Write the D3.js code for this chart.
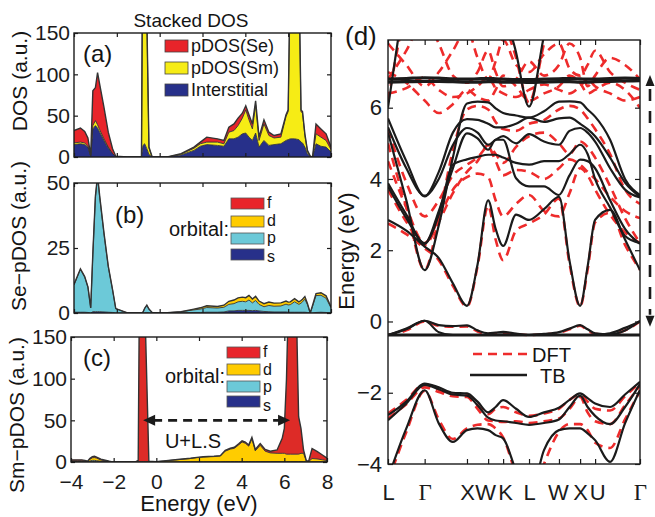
<!DOCTYPE html>
<html>
<head>
<meta charset="utf-8">
<script src="https://cdn.jsdelivr.net/npm/d3@7/dist/d3.min.js"></script>
<style>
html,body{margin:0;padding:0;background:#fff;}
svg text{font-family:"Liberation Sans",Arial,Helvetica,sans-serif;fill:#141414;}
</style>
</head>
<body>
<svg id="chart" width="655" height="517"></svg>
<script>
// ---------------- DOS data (energy grid in eV) ----------------
const energy = [-4.0,-3.7,-3.5,-3.35,-3.22,-3.12,-3.0,-2.9,-2.8,-2.6,
 -2.4,-2.2,-2.05,-1.5,-1.0,-0.85,-0.78,-0.7,-0.6,-0.5,
 -0.35,0.0,0.35,1.0,1.6,1.9,2.2,2.7,3.0,3.23,
 3.47,3.66,3.86,4.02,4.17,4.33,4.48,4.64,4.87,5.1,
 5.34,5.66,5.9,6.0,6.1,6.3,6.5,6.6,6.67,6.78,
 6.9,7.03,7.14,7.3,7.53,7.77,8.0];

// (a) stacked DOS
const dosInterstitial = [15,16,15,12,1,34,38,35,30,20,
 11,4,0.5,0,0,0,14,16,10,3,
 0,0,0,2.5,8,13,15,14,13,22,
 22,24,28,29,24,20,29,12,20,14,
 15,16,20,21,22,22,21,18,17,12,
 4,0.5,0,16,13,12,6];
const dosSm = [2,2,2,1,0,4,6,4,3,2,
 1,0,0,0,0,0,300,400,160,8,
 0,0,0,1,2.5,3,3,4,3,8,
 10,14,19,28,21,14,34,8,20,12,
 8,8,29,34,200,400,200,37,36,14,
 3,0.3,0,12,11,8,3];
const dosSe = [15,17,14,10,1,42,40,63,55,38,
 18,6,0.5,0,0,0,2,2,2,1,
 0,0,0,0.5,1.5,2,6,4,4,6,
 8,9,6,5,6,6,5,4,5,4,
 3,4,2,2,3,3,3,2,2,2,
 1,0.2,0,12,10,8,3];

// (b) Se-pDOS by orbital
const seS = [0.3,0.3,0.3,0.2,0,0.5,0.5,0.5,0.5,0.4,
 0.3,0.2,0,0,0,0,0,0.1,0.2,0.1,
 0,0,0,0.1,0.2,0.2,0.3,0.3,0.4,0.8,
 0.8,1,1,1,1,0.9,1,0.8,0.6,0.5,
 0.4,0.4,0.4,0.3,0.3,0.3,0.3,0.3,0.3,0.3,
 0.2,0,0,0.2,0.3,0.2,0.1];
const seP = [10.5,16.5,13.5,9.8,2,22,44,52,44,30,
 17.5,8.7,1.7,0,0,0,0.3,1.7,2.8,1.4,
 0.2,0,0.1,0.4,1.0,1.3,1.8,1.6,1.8,2.5,
 2.8,3.3,3.5,3.3,4,3,3.8,2.5,1.8,2.4,
 2.2,2.3,3,2.8,2.9,4,3,3.5,4,5,
 3,0,2.6,6.5,6.5,5.5,1.9];
const seD = [0.2,0.2,0.2,0,0,0.5,0.5,0.5,0.5,0.4,
 0.2,0.1,0,0,0,0,0,0,0,0,
 0,0,0,0,0.3,0.5,0.7,0.6,0.8,1.2,
 1.4,1.5,1.6,1.6,1.8,1.5,1.6,1.3,1.2,1.3,
 1.2,1.2,1.2,1.1,1.1,1.2,1,1,1,1,
 0.5,0,0.4,0.8,1,0.9,0.3];

// (c) Sm-pDOS by orbital
const smS = [0.3,0.3,0.3,0.2,0.1,0.3,0.5,0.5,0.4,0.3,
 0.2,0.1,0,0,0,0,0,0,0,0,
 0,0,0,0,0.1,0.1,0.1,0.1,0.1,0.2,
 0.2,0.2,0.2,0.2,0.2,0.2,0.2,0.2,0.2,0.2,
 0.2,0.2,0.2,0.2,0.2,0.2,0.2,0.2,0.2,0.2,
 0.2,0.1,0,0.1,0.1,0.1,0.1];
const smP = [0.3,0.3,0.3,0.3,0.2,0.8,1.5,1.5,1.2,0.6,
 0.3,0.1,0,0,0,0,0,0,0,0,
 0,0,0,0,0.1,0.1,0.1,0.1,0.2,0.3,
 0.3,0.3,0.3,0.3,0.3,0.3,0.3,0.3,0.3,0.3,
 0.2,0.2,0.2,0.2,0.2,0.2,0.2,0.2,0.2,0.2,
 0.2,0.1,0,0.1,0.1,0.1,0.1];
const smD = [1,1,1,0.8,0.5,2,3,3.3,3,1.5,
 0.8,0.3,0.1,0,0,0,0.5,0.5,0.5,0.3,
 0.1,0.5,1.2,2.8,4,5,5.7,6.3,6.8,12.5,
 15,16,20,23.5,22,18.5,27,13,19.5,12.5,
 10.5,10,10,10,9,9,9,9,9,10,
 10,1,0.5,4,3.5,2.5,1.5];
const smF = [1,1,1,0.7,0.2,1,1.5,1.5,1.3,1,
 0.8,0.4,0.1,0,0,2,250,400,350,150,
 1,0,0.1,0.2,0.3,0.3,0.4,0.5,0.5,1,
 1,1.2,1.3,1.5,1.5,1.5,2,1.5,2,2,
 2,4,18,30,90,300,300,130,45,30,
 4,0.5,0.5,12,9,6,3];

const dosTicksX = [-4,-2,0,2,4,6,8];
const dosTicksA = [0,50,100,150];
const dosTicksB = [0,25,50];
const orbitalNames = ["f","d","p","s"];

// ---------------- band structure data ----------------
const kNodes = [0, 0.866, 1.866, 2.366, 2.720, 3.332, 4.039, 4.539, 4.893, 5.954];
const kLabels = ["L","Γ","X","W","K","L","W","X","U","Γ"];
const kGrid = [0,0.433,0.866,1.2,1.533,1.866,2.116,2.366,2.543,2.72,3.026,3.332,3.686,4.039,4.289,4.539,4.716,4.893,5.247,5.6,5.954];
const bandTicksY = [-4,-2,0,2,4,6];

// TB bands (eV at kGrid)
const tbA  = [2.85,2.55,2.10,1.78,1.07,0.44,1.60,3.40,2.60,2.12,3.00,2.85,3.15,3.50,1.70,0.44,1.54,2.85,3.13,2.30,1.44];
const tbS  = [5.30,3.40,1.44,2.70,4.60,6.12,6.17,6.15,5.98,5.85,5.78,5.72,5.90,6.17,6.18,6.15,5.95,5.75,5.10,4.00,3.55];
const tbU1 = [5.70,4.50,3.51,4.20,5.30,5.68,5.66,5.55,5.45,5.45,5.55,5.72,5.60,5.70,5.72,5.55,5.40,5.20,4.60,3.90,3.50];
const tbU2 = [5.45,4.30,3.53,4.00,4.95,5.43,5.30,4.96,5.10,5.20,5.00,5.26,5.05,4.96,5.35,5.43,5.30,5.05,4.30,3.70,3.48];
const tbM  = [3.88,3.00,2.18,3.10,4.30,5.28,5.14,4.82,5.10,5.10,4.02,3.79,3.79,3.55,4.10,4.54,4.50,4.30,3.40,2.60,2.18];
const tbN  = [3.79,2.90,2.20,3.00,4.40,4.55,4.62,4.68,4.68,4.60,4.45,4.40,4.50,4.50,4.70,4.96,4.70,4.00,3.20,2.40,2.20];
const tbP  = [null,null,null,null,null,null,null,null,10.8,9.1,7.55,6.03,8.03,10.0,null,null,null,null,null,null,null];
const tbP2 = [6.0,9.5,null,null,null,null,null,null,null,null,null,null,null,null,null,null,null,null,null,null,null];
const tbF6a = [6.80,6.82,6.84,6.83,6.81,6.80,6.81,6.82,6.81,6.80,6.79,6.79,6.80,6.81,6.82,6.81,6.80,6.80,6.82,6.83,6.82];
const tbF6b = [6.72,6.73,6.74,6.74,6.73,6.72,6.72,6.73,6.73,6.72,6.72,6.71,6.72,6.73,6.73,6.72,6.72,6.73,6.74,6.75,6.76];
const tbF1 = [-0.38,-0.22,0.02,-0.10,-0.13,-0.11,-0.25,-0.33,-0.31,-0.29,-0.34,-0.38,-0.35,-0.30,-0.20,-0.10,-0.22,-0.33,-0.36,-0.25,0.02];
const tbF2 = [-0.38,-0.20,0.02,-0.30,-0.38,-0.38,-0.38,-0.38,-0.37,-0.37,-0.38,-0.38,-0.38,-0.38,-0.38,-0.38,-0.38,-0.37,-0.33,-0.18,0.00];
const tbF0 = [-0.38,-0.38,-0.38,-0.38,-0.38,-0.38,-0.38,-0.38,-0.38,-0.38,-0.38,-0.38,-0.38,-0.38,-0.38,-0.38,-0.38,-0.38,-0.38,-0.38,-0.38];
const tbV1 = [-2.63,-2.25,-1.74,-1.85,-2.00,-2.02,-2.25,-2.55,-2.40,-2.21,-2.45,-2.68,-2.55,-2.42,-2.20,-2.02,-2.15,-2.30,-2.40,-2.05,-1.69];
const tbV2 = [-2.77,-2.30,-1.78,-1.90,-2.05,-2.08,-2.35,-2.70,-2.78,-2.80,-2.85,-2.90,-2.85,-2.75,-2.40,-2.08,-2.40,-2.65,-2.88,-2.40,-1.75];
const tbV3 = [-4.40,-3.00,-1.93,-2.86,-3.38,-3.05,-3.00,-3.05,-3.19,-3.28,-4.20,-5.00,-3.61,-3.05,-3.00,-3.00,-3.14,-3.33,-3.94,-2.86,-1.92];

// DFT bands (eV at kGrid)
const dfA  = [2.75,2.45,2.05,1.72,1.00,0.42,1.55,3.25,2.30,1.72,2.55,2.75,3.00,3.45,1.62,0.42,1.45,2.78,3.05,2.15,1.45];
const dfS  = [5.00,3.20,1.45,2.90,4.80,5.95,6.05,5.95,5.60,5.40,5.35,5.55,5.65,5.95,6.05,5.95,5.70,5.40,4.70,3.70,3.30];
const dfU1 = [5.40,3.90,2.95,3.40,4.10,4.40,4.60,4.90,4.50,4.10,4.25,4.20,4.00,4.30,4.55,4.40,4.20,4.00,3.50,3.10,2.90];
const dfU2 = [4.50,3.20,2.20,2.90,3.70,4.05,4.15,4.05,3.40,2.95,3.30,3.55,3.10,2.95,3.60,4.30,4.10,3.70,3.00,2.50,2.20];
const dfM  = [3.70,2.80,2.15,2.80,3.60,4.20,4.50,4.95,4.70,4.45,4.90,5.20,5.30,5.00,4.70,5.05,4.90,4.60,3.80,2.90,2.20];
const dfH1 = [6.40,6.55,6.85,6.50,6.30,6.40,6.60,6.85,6.55,6.40,6.30,6.50,6.65,6.50,6.40,6.60,6.80,6.60,6.40,6.20,6.30];
const dfH2 = [7.00,6.70,6.20,5.85,6.10,6.50,6.30,6.20,6.50,6.90,6.60,6.20,6.40,6.60,6.90,6.70,6.40,6.50,6.70,6.50,6.00];
const dfH3 = [7.80,7.20,6.60,7.00,7.60,8.20,7.40,6.80,7.30,7.90,7.20,7.00,7.50,7.80,7.10,6.90,7.20,7.60,7.00,6.70,6.50];
const dfH4 = [6.80,7.60,8.50,7.80,6.90,6.70,7.00,7.60,7.00,6.60,6.80,7.30,6.90,7.20,7.80,7.40,6.60,6.90,7.40,7.20,6.80];
const dfP  = [null,null,null,null,null,null,null,null,10.5,8.8,7.4,6.15,7.8,9.6,null,null,null,null,null,null,null];
const dfP2 = [6.2,9.0,null,null,null,null,null,null,null,null,null,null,null,null,null,null,null,null,null,null,null];
const dfF1 = [-0.38,-0.25,0.00,-0.12,-0.15,-0.14,-0.28,-0.35,-0.33,-0.32,-0.36,-0.38,-0.36,-0.32,-0.22,-0.12,-0.25,-0.35,-0.36,-0.25,0.00];
const dfV1 = [-2.58,-2.20,-1.76,-1.92,-2.05,-2.06,-2.35,-2.60,-2.45,-2.40,-2.55,-2.65,-2.58,-2.45,-2.20,-2.05,-2.25,-2.45,-2.50,-2.10,-1.72];
const dfV2 = [-2.72,-2.32,-1.85,-1.98,-2.10,-2.12,-2.45,-2.78,-2.80,-2.82,-2.80,-2.85,-2.80,-2.72,-2.45,-2.12,-2.55,-2.80,-2.88,-2.35,-1.80];
const dfV3 = [-4.50,-3.10,-1.95,-2.75,-3.30,-3.00,-2.90,-2.88,-3.00,-3.25,-4.30,-5.20,-4.00,-3.10,-2.88,-2.88,-3.05,-3.40,-3.55,-2.75,-1.95];

// ---------------- drawing ----------------
const svg = d3.select("#chart");
const FS = 22, TFS = 21;
const INK = "#1b1b1b";
const C = { red:"#E8242A", yellow:"#F6EC15", gold:"#FFCC00", cyan:"#6CC9D8", navy:"#27308A", fred:"#DD2B27" };

function frame(x, y, p) {
  const gb = svg.append("g").attr("transform", `translate(0,${p.bottom})`)
    .call(d3.axisBottom(x).tickValues(p.xTicks).tickSize(-p.tick).tickSizeOuter(0).tickPadding(p.xPad).tickFormat(p.xFormat));
  svg.append("g").attr("transform", `translate(0,${p.top})`)
    .call(d3.axisTop(x).tickValues(p.xTicks).tickSize(-p.tick).tickSizeOuter(0).tickFormat(""));
  const gl = svg.append("g").attr("transform", `translate(${p.left},0)`)
    .call(d3.axisLeft(y).tickValues(p.yTicks).tickSize(-p.tick).tickSizeOuter(0).tickPadding(p.yPad));
  svg.append("g").attr("transform", `translate(${p.right},0)`)
    .call(d3.axisRight(y).tickValues(p.yTicks).tickSize(-p.tick).tickSizeOuter(0).tickFormat(""));
  svg.selectAll(".domain").remove();
  svg.selectAll(".tick line").attr("stroke", INK).attr("stroke-width", 1.2);
  gb.selectAll(".tick text").attr("font-size", p.fs).style("fill", INK);
  gl.selectAll(".tick text").attr("font-size", p.fs).style("fill", INK);
  svg.append("rect").attr("x", p.left).attr("y", p.top)
    .attr("width", p.right - p.left).attr("height", p.bottom - p.top)
    .attr("fill", "none").attr("stroke", INK).attr("stroke-width", 1.4);
  return gb;
}

function dosPanel(p) {
  const x = d3.scaleLinear().domain([dosTicksX[0], dosTicksX[dosTicksX.length-1]]).range([p.left, p.right]);
  const y = d3.scaleLinear().domain([0, p.yTicks[p.yTicks.length-1]]).range([p.bottom, p.top]);
  const id = "clip" + p.name;
  svg.append("clipPath").attr("id", id).append("rect")
    .attr("x", p.left).attr("y", p.top).attr("width", p.right - p.left).attr("height", p.bottom - p.top);
  const rows = energy.map((e, i) => { const r = { e }; p.layers.forEach(l => r[l.key] = l.values[i]); return r; });
  const stacked = d3.stack().keys(p.layers.map(l => l.key))(rows);
  const area = d3.area().x(d => x(d.data.e)).y0(d => y(d[0])).y1(d => y(d[1]));
  const edge = d3.line().x(d => x(d.data.e)).y(d => y(d[1]));
  const g = svg.append("g").attr("clip-path", `url(#${id})`);
  stacked.forEach((s, i) => g.append("path").attr("d", area(s)).attr("fill", p.layers[i].color));
  stacked.forEach((s, i) => g.append("path").attr("d", edge(s)).attr("fill", "none")
    .attr("stroke", "#333").attr("stroke-width", i === stacked.length - 1 ? 1.4 : 0.9));
  frame(x, y, p);
  return { x, y };
}

// Panel (a)
const pa = dosPanel({ name:"a", left:74, right:331, top:33, bottom:157, tick:4, xPad:8, yPad:4, fs:TFS,
  xTicks:dosTicksX, yTicks:dosTicksA, xFormat:"",
  layers:[{key:"int",values:dosInterstitial,color:C.navy},{key:"sm",values:dosSm,color:C.yellow},{key:"se",values:dosSe,color:C.red}] });
// Panel (b)
const pb = dosPanel({ name:"b", left:74, right:331, top:183, bottom:313, tick:4, xPad:8, yPad:4, fs:TFS,
  xTicks:dosTicksX, yTicks:dosTicksB, xFormat:"",
  layers:[{key:"s",values:seS,color:C.navy},{key:"p",values:seP,color:C.cyan},{key:"d",values:seD,color:C.gold}] });
// Panel (c)
const pc = dosPanel({ name:"c", left:71, right:327, top:337, bottom:462, tick:4, xPad:12, yPad:4, fs:TFS,
  xTicks:dosTicksX, yTicks:dosTicksA, xFormat:d3.format("d"),
  layers:[{key:"s",values:smS,color:C.navy},{key:"p",values:smP,color:C.cyan},{key:"d",values:smD,color:C.gold},{key:"f",values:smF,color:C.fred}] });

function txt(x, y, s, size, anchor, rot) {
  const t = svg.append("text").attr("x", x).attr("y", y).attr("font-size", size)
    .attr("text-anchor", anchor || "start").text(s);
  if (rot) t.attr("transform", `rotate(${rot},${x},${y})`);
  return t;
}
txt(191, 27, "Stacked DOS", 19, "middle");
txt(83, 62, "(a)", 24);
txt(115, 223, "(b)", 24);
txt(83, 366, "(c)", 24);
txt(27, 81, "DOS (a.u.)", 21, "middle", -90);
txt(26, 236, "Se\u2212pDOS (a.u.)", 21, "middle", -90);
txt(24, 415, "Sm\u2212pDOS (a.u.)", 21, "middle", -90);
txt(199, 511, "Energy (eV)", FS, "middle");

// legend (a)
const legA = [["pDOS(Se)", C.red], ["pDOS(Sm)", C.yellow], ["Interstitial", C.navy]];
const legAY = [40, 62, 84];
legA.forEach((d, i) => {
  svg.append("rect").attr("x", 165).attr("y", legAY[i]).attr("width", 23).attr("height", 12)
    .attr("fill", d[1]).attr("stroke", "#444").attr("stroke-width", 0.8);
  txt(191, legAY[i] + 12, d[0], 18);
});

// orbital legends (b) and (c)
const orbColors = { f:C.red, d:C.gold, p:C.cyan, s:C.navy };
function orbLegend(bx, boxY, labY, ox, oy) {
  orbitalNames.forEach((o, i) => {
    svg.append("rect").attr("x", bx).attr("y", boxY[i]).attr("width", 33).attr("height", 11)
      .attr("fill", orbColors[o]).attr("stroke", "#555").attr("stroke-width", 0.8);
    txt(bx + 36, labY[i], o, 16);
  });
  txt(ox, oy, "orbital:", 20, "end");
}
orbLegend(231, [198, 216, 233, 249], [208, 226, 243, 262], 229, 236);
orbLegend(227, [347, 364, 381, 396], [357, 375, 392, 411], 225, 383);

// U+L.S arrow in (c)
(function () {
  const yA = pc.y(50), x1 = pc.x(-0.62), x2 = pc.x(6.27);
  svg.append("line").attr("x1", x1 + 10).attr("x2", x2 - 10).attr("y1", yA).attr("y2", yA)
    .attr("stroke", INK).attr("stroke-width", 2.6).attr("stroke-dasharray", "9,6");
  svg.append("path").attr("d", `M${x1},${yA} L${x1 + 12},${yA - 5.5} L${x1 + 12},${yA + 5.5} Z`).attr("fill", INK);
  svg.append("path").attr("d", `M${x2},${yA} L${x2 - 12},${yA - 5.5} L${x2 - 12},${yA + 5.5} Z`).attr("fill", INK);
  txt(193, 448, "U+L.S", 20, "middle");
})();

// ---------------- Panel (d) band structure ----------------
const P = { left:388, right:640, top:40, bottom:464 };
const xk = d3.scaleLinear().domain([kNodes[0], kNodes[kNodes.length - 1]]).range([P.left, P.right]);
const yE = d3.scaleLinear().domain([-4, 7.9]).range([P.bottom, P.top]);
svg.append("clipPath").attr("id", "clipd").append("rect")
  .attr("x", P.left).attr("y", P.top).attr("width", P.right - P.left).attr("height", P.bottom - P.top);
const gd = svg.append("g").attr("clip-path", "url(#clipd)");
const bandLine = d3.line().defined(d => d[1] != null).x(d => xk(d[0])).y(d => yE(d[1])).curve(d3.curveMonotoneX);
const asPts = arr => kGrid.map((k, i) => [k, arr[i]]);

const dftBands = [dfV1, dfV2, dfV3, dfF1, dfA, dfS, dfU1, dfU2, dfM, dfH1, dfH2, dfH3, dfH4, dfP, dfP2];
dftBands.forEach(b => gd.append("path").attr("d", bandLine(asPts(b))).attr("fill", "none")
  .attr("stroke", "#EE2B2B").attr("stroke-width", 2.6).attr("stroke-dasharray", "9,6"));

const tbBands = [tbV1, tbV2, tbV3, tbF1, tbF2, tbA, tbS, tbU1, tbU2, tbM, tbN, tbP, tbP2];
tbBands.forEach(b => gd.append("path").attr("d", bandLine(asPts(b))).attr("fill", "none")
  .attr("stroke", INK).attr("stroke-width", 2.2));
[tbF6a, tbF6b, tbF0].forEach(b => gd.append("path").attr("d", bandLine(asPts(b))).attr("fill", "none")
  .attr("stroke", INK).attr("stroke-width", 3.2));

const gdb = frame(xk, yE, { left:P.left, right:P.right, top:P.top, bottom:P.bottom, tick:5, xPad:20, yPad:6, fs:FS,
  xTicks:kNodes, yTicks:bandTicksY, xFormat:(d, i) => kLabels[i] });
const labelNudge = [0, 0, 0, -3, 2, 0, -1, 0, 2, 0];
gdb.selectAll(".tick text").each(function (d, i) {
  const t = d3.select(this).attr("dx", labelNudge[i]);
  if (kLabels[i] === "Γ") t.style("font-family", '"Liberation Serif","Times New Roman",serif').attr("font-size", 23);
});
txt(345, 45, "(d)", 26);
txt(354, 251, "Energy (eV)", FS, "middle", -90);

// DFT / TB legend
svg.append("line").attr("x1", 473).attr("x2", 527).attr("y1", 354).attr("y2", 354)
  .attr("stroke", "#EE2B2B").attr("stroke-width", 2.6).attr("stroke-dasharray", "9,6");
txt(532, 362, "DFT", 20);
svg.append("line").attr("x1", 470).attr("x2", 527).attr("y1", 375).attr("y2", 375)
  .attr("stroke", INK).attr("stroke-width", 2.6);
txt(540, 383, "TB", 20);

// vertical dashed arrow right of (d)
(function () {
  const xa = 650, yt = yE(6.92), yb = yE(-0.15);
  svg.append("line").attr("x1", xa).attr("x2", xa).attr("y1", yt + 14).attr("y2", yb - 12)
    .attr("stroke", INK).attr("stroke-width", 2.6).attr("stroke-dasharray", "12,10");
  svg.append("path").attr("d", `M${xa},${yt} L${xa - 4.5},${yt + 11} L${xa + 4.5},${yt + 11} Z`).attr("fill", INK);
  svg.append("path").attr("d", `M${xa},${yb} L${xa - 4.5},${yb - 11} L${xa + 4.5},${yb - 11} Z`).attr("fill", INK);
})();
</script>
</body>
</html>
